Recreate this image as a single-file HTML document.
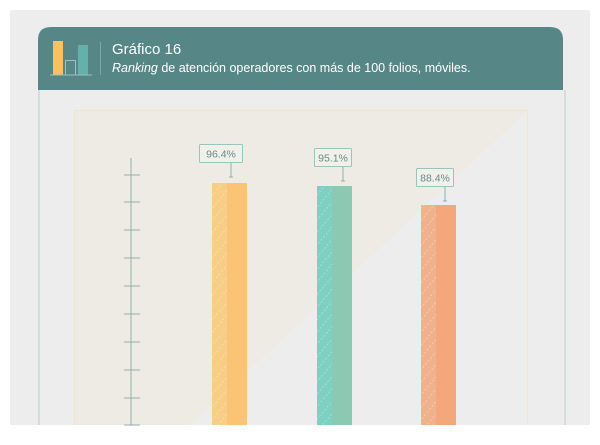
<!DOCTYPE html>
<html><head><meta charset="utf-8"><style>
body{margin:0;width:600px;height:440px;background:#fff;overflow:hidden;font-family:"Liberation Sans",sans-serif}
</style></head><body>
<svg width="600" height="440" xmlns="http://www.w3.org/2000/svg">
<defs>
<pattern id="d" width="8" height="12" patternUnits="userSpaceOnUse" patternTransform="rotate(40)">
<line x1="0" y1="0" x2="0" y2="12" stroke="#fff" stroke-width="1" stroke-dasharray="2,2" opacity="0.6"/>
</pattern>
</defs>
<rect x="10" y="10" width="580" height="415" fill="#ecedec"/>
<path d="M38 40 Q38 27 51 27 L550 27 Q563 27 563 40 L563 90 L38 90 Z" fill="#568786"/>
<line x1="39" y1="90" x2="39" y2="425" stroke="#c5d4d3" stroke-width="1.2"/>
<line x1="565" y1="90" x2="565" y2="425" stroke="#c5d4d3" stroke-width="1.2"/>
<rect x="53" y="41" width="10" height="34" fill="#fcc15e"/>
<rect x="65.5" y="60.5" width="10" height="14.5" fill="none" stroke="#9cc1bd"/>
<rect x="78" y="45" width="10" height="30" fill="#66b0ab"/>
<line x1="50" y1="75" x2="92" y2="75" stroke="#9cc1bd"/>
<line x1="100.5" y1="42" x2="100.5" y2="75" stroke="#7fa7a5"/>
<text x="112" y="54" fill="#fff" font-size="15">Gráfico 16</text>
<text x="112" y="72" fill="#fff" font-size="12.5"><tspan font-style="italic">Ranking</tspan> de atención operadores con más de 100 folios, móviles.</text>
<rect x="74" y="110" width="454" height="315" fill="#ecedec"/>
<polygon points="74,110 528,110 190,425 74,425" fill="#eeebe4"/>
<path d="M74.5 425 V110.5 H527.5 V425" fill="none" stroke="#f3e4cc"/>
<line x1="131" y1="158" x2="131" y2="425" stroke="#8fb0ae" stroke-width="1"/>
<g stroke="#8fb0ae" stroke-width="1">
<line x1="124" y1="175" x2="140" y2="175"/><line x1="124" y1="202" x2="140" y2="202"/>
<line x1="124" y1="230" x2="140" y2="230"/><line x1="124" y1="258" x2="140" y2="258"/>
<line x1="124" y1="286" x2="140" y2="286"/><line x1="124" y1="314" x2="140" y2="314"/>
<line x1="124" y1="342" x2="140" y2="342"/><line x1="124" y1="370" x2="140" y2="370"/>
<line x1="124" y1="398" x2="140" y2="398"/><line x1="124" y1="425" x2="140" y2="425"/>
</g>
<rect x="212" y="183" width="35" height="242" fill="#fbc474"/>
<rect x="212" y="183" width="15" height="242" fill="#f8cd86"/>
<rect x="212" y="183" width="15" height="242" fill="url(#d)"/>
<rect x="317" y="186" width="35" height="239" fill="#8bc9b2"/>
<rect x="317" y="186" width="15" height="239" fill="#7cd1c0"/>
<rect x="317" y="186" width="15" height="239" fill="url(#d)"/>
<rect x="421" y="205" width="35" height="220" fill="#f3a77a"/>
<rect x="421" y="205" width="15" height="220" fill="#f0b28c"/>
<rect x="421" y="205" width="15" height="220" fill="url(#d)"/>
<g fill="#f1f1ec" stroke="#9cc3c0" stroke-width="1">
<rect x="199.5" y="144.5" width="43" height="18" rx="1"/>
<rect x="314.5" y="148.5" width="37" height="18" rx="1"/>
<rect x="416.5" y="168.5" width="37" height="18" rx="1"/>
</g>
<g stroke="#8fb0ae"><line x1="231" y1="163" x2="231" y2="177"/><line x1="229" y1="177" x2="233" y2="177"/>
<line x1="343" y1="167" x2="343" y2="181"/><line x1="341" y1="181" x2="345" y2="181"/>
<line x1="445" y1="187" x2="445" y2="201"/><line x1="443" y1="201" x2="447" y2="201"/></g>
<g fill="#6a8886" font-size="10.5" text-anchor="middle">
<text x="221" y="157.5">96.4%</text><text x="333" y="161.5">95.1%</text><text x="435" y="181.5">88.4%</text>
</g>
</svg>
</body></html>
